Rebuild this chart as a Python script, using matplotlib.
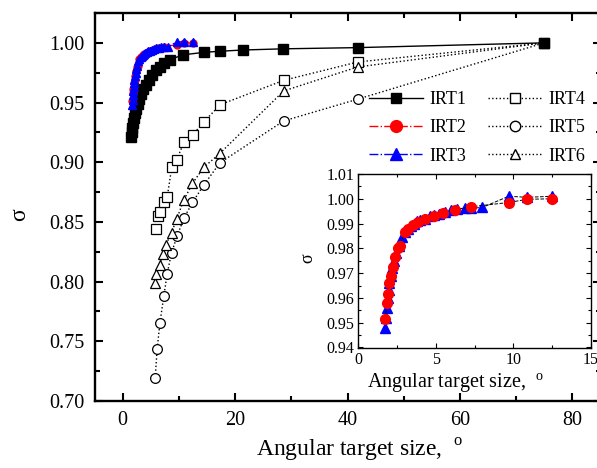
import matplotlib
matplotlib.use("Agg")
import matplotlib.pyplot as plt
from matplotlib.lines import Line2D
from matplotlib.ticker import MultipleLocator, FormatStrFormatter

plt.rcParams["font.family"] = "Liberation Serif"
plt.rcParams["mathtext.fontset"] = "custom"
plt.rcParams["mathtext.rm"] = "Liberation Serif"

# angular target size (deg) vs sigma
irt1_x = [1.5, 1.6, 1.7, 1.8, 2.0, 2.2, 2.4, 2.7, 3.0, 3.3, 3.7, 4.2, 4.7, 5.3, 5.9,
          6.6, 7.4, 8.4, 10.8, 14.4, 17.4, 21.4, 28.6, 41.8, 75.0]
irt1_y = [0.921, 0.925, 0.929, 0.933, 0.937, 0.941, 0.945, 0.949, 0.953, 0.957, 0.961,
          0.965, 0.969, 0.973, 0.977, 0.980, 0.983, 0.986, 0.990, 0.992, 0.993, 0.994,
          0.995, 0.996, 1.000]

irt2_x = [1.74, 1.85, 1.92, 1.98, 2.14, 2.24, 2.35, 2.57, 2.68, 3.0, 3.22, 3.55, 3.88,
          4.3, 4.86, 5.45, 6.25, 7.3, 9.7, 10.9, 12.5]
irt2_y = [0.9515, 0.958, 0.9616, 0.966, 0.9687, 0.9725, 0.9765, 0.9801, 0.981, 0.9865,
          0.988, 0.9895, 0.9908, 0.9918, 0.993, 0.9944, 0.9956, 0.9968, 0.9985, 0.9998, 1.0]

irt3_x = [1.74, 1.8, 1.85, 1.9, 1.95, 2.0, 2.1, 2.2, 2.3, 2.45, 2.6, 2.8, 3.0, 3.2, 3.4,
          3.6, 3.8, 4.0, 4.3, 4.6, 4.9, 5.2, 5.6, 6.0, 6.4, 6.9, 7.3, 8.0, 9.7, 10.9, 12.5]
irt3_y = [0.948, 0.952, 0.956, 0.960, 0.963, 0.966, 0.969, 0.972, 0.975, 0.978, 0.981,
          0.9845, 0.9865, 0.988, 0.989, 0.990, 0.991, 0.9915, 0.992, 0.993, 0.9935, 0.994,
          0.9948, 0.9955, 0.996, 0.9962, 0.9962, 0.9965, 1.001, 1.0006, 1.001]

irt4_x = [5.86, 6.22, 6.63, 7.34, 7.92, 8.76, 9.59, 10.94, 12.54, 14.44, 17.4, 28.65, 41.85, 75.0]
irt4_y = [0.844, 0.855, 0.8585, 0.8664, 0.8706, 0.8962, 0.9018, 0.917, 0.9232, 0.9338,
          0.9483, 0.9686, 0.984, 1.0]

irt5_x = [5.79, 6.15, 6.63, 7.34, 7.92, 8.7, 9.7, 10.89, 12.43, 14.44, 17.3, 28.65, 41.8, 75.0]
irt5_y = [0.7192, 0.7437, 0.7652, 0.7883, 0.8064, 0.8242, 0.8382, 0.853, 0.8664, 0.8809,
          0.8995, 0.9346, 0.9528, 1.0]

irt6_x = [5.74, 5.91, 6.63, 7.1, 7.69, 8.7, 9.59, 10.89, 12.43, 14.44, 17.3, 28.65, 41.8, 75.0]
irt6_y = [0.7992, 0.8064, 0.814, 0.8232, 0.8307, 0.841, 0.8522, 0.8683, 0.8823, 0.8957,
          0.9074, 0.9597, 0.9798, 1.0]

labels = ["IRT1", "IRT2", "IRT3", "IRT4", "IRT5", "IRT6"]
XLABEL = r"Angular target size,  $^{\mathrm{o}}$"

W, H = 597, 468
fig = plt.figure(figsize=(W / 100, H / 100), dpi=100)

# ---- main axes
ax = fig.add_axes([94.5 / W, 67 / H, 506 / W, 388 / H])
ax.plot(irt5_x, irt5_y, ls=":", color="k", lw=1, marker="o", ms=7, mfc="white", mec="k", mew=0.9)
ax.plot(irt4_x, irt4_y, ls=":", color="k", lw=1, marker="s", ms=7, mfc="white", mec="k", mew=0.9)
ax.plot(irt6_x, irt6_y, ls=":", color="k", lw=1, marker="^", ms=7.5, mfc="white", mec="k", mew=0.9)
ax.plot(irt1_x, irt1_y, ls="-", color="k", lw=1, marker="s", ms=7, mfc="k", mec="k")
ax.plot(irt2_x, irt2_y, ls="-.", color="r", lw=1, marker="o", ms=5, mfc="r", mec="r")
ax.plot(irt3_x, irt3_y, ls="-.", color="b", lw=1, marker="^", ms=5.5, mfc="b", mec="b")

ax.set_xlim(-5, 85)
ax.set_ylim(0.70, 1.025)
ax.xaxis.set_major_locator(MultipleLocator(20))
ax.xaxis.set_minor_locator(MultipleLocator(10))
ax.yaxis.set_major_locator(MultipleLocator(0.05))
ax.yaxis.set_minor_locator(MultipleLocator(0.025))
ax.yaxis.set_major_formatter(FormatStrFormatter("%.2f"))
ax.tick_params(which="both", direction="in", top=True, right=True, width=1.5)
ax.tick_params(which="major", length=5.5, labelsize=14.5, pad=7)
ax.tick_params(which="minor", length=3.5)
for sp in ax.spines.values():
    sp.set_linewidth(1.7)

fig.text(360 / W, 1 - 450 / H, XLABEL, fontsize=17, ha="center", va="center")
fig.text(20 / W, 1 - 215 / H, "σ", fontsize=17, rotation=90, ha="center", va="center")

handles = [
    Line2D([], [], color="k", ls="-", lw=1, marker="s", ms=7, mfc="k", mec="k"),
    Line2D([], [], color="r", ls="-.", lw=1, marker="o", ms=8.5, mfc="r", mec="r"),
    Line2D([], [], color="b", ls="-.", lw=1, marker="^", ms=8.5, mfc="b", mec="b"),
    Line2D([], [], color="k", ls=":", lw=1, marker="s", ms=7, mfc="white", mec="k"),
    Line2D([], [], color="k", ls=":", lw=1, marker="o", ms=7.5, mfc="white", mec="k"),
    Line2D([], [], color="k", ls=":", lw=1, marker="^", ms=7.5, mfc="white", mec="k"),
]
ax.legend(handles, labels, ncol=2, frameon=False, fontsize=13, handlelength=3.0,
          handletextpad=0.35, columnspacing=1.2, labelspacing=0.62, loc="center",
          bbox_to_anchor=(477 / W, 1 - 128 / H), bbox_transform=fig.transFigure)

# ---- inset
ax2 = fig.add_axes([358.3 / W, (H - 347.5) / H, 232.4 / W, 173.5 / H])
ax2.plot(irt3_x, irt3_y, ls="--", color="k", lw=0.7, marker="^", ms=6.5, mfc="b", mec="b")
ax2.plot(irt2_x, irt2_y, ls="--", color="k", lw=0.7, marker="o", ms=7, mfc="r", mec="r")
ax2.set_xlim(0, 15)
ax2.set_ylim(0.94, 1.01)
ax2.xaxis.set_major_locator(MultipleLocator(5))
ax2.xaxis.set_minor_locator(MultipleLocator(2.5))
ax2.yaxis.set_major_locator(MultipleLocator(0.01))
ax2.yaxis.set_minor_locator(MultipleLocator(0.005))
ax2.yaxis.set_major_formatter(FormatStrFormatter("%.2f"))
ax2.tick_params(which="both", direction="in", top=True, right=True, width=0.8)
ax2.tick_params(which="major", length=3.5, labelsize=11.5, pad=3)
ax2.tick_params(which="minor", length=2)
for sp in ax2.spines.values():
    sp.set_linewidth(1.0)
ax2.text(0.42, -0.205, XLABEL, fontsize=14.5, ha="center", va="center", transform=ax2.transAxes)
ax2.text(-0.216, 0.516, "σ", fontsize=13, rotation=90, ha="center", va="center",
         transform=ax2.transAxes)

fig.savefig("out.png", dpi=100)
